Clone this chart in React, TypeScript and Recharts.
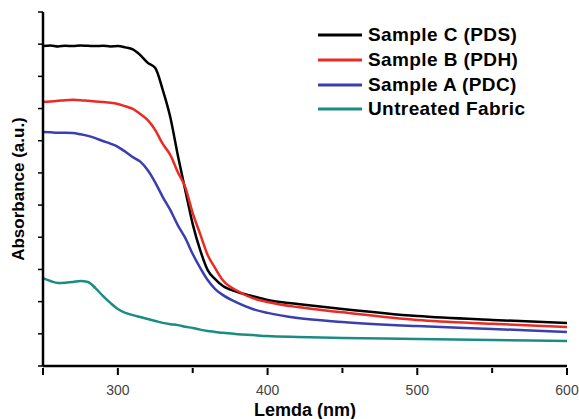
import React from "react";
import { LineChart, Line, XAxis, YAxis } from "recharts";

const wavelengths = [
  250, 255, 260, 265, 270, 275, 280, 285, 290, 295, 300, 305, 310, 315, 320, 325, 330,
  335, 340, 345, 350, 355, 360, 365, 370, 380, 390, 400, 420, 450, 500, 550, 600,
];

const sampleC = [
  0.994, 0.996, 0.993, 0.995, 0.994, 0.996, 0.995, 0.994, 0.995, 0.993, 0.994, 0.99, 0.984,
  0.966, 0.942, 0.926, 0.858, 0.774, 0.656, 0.547, 0.441, 0.36, 0.298, 0.27, 0.249, 0.23,
  0.217, 0.205, 0.193, 0.177, 0.155, 0.143, 0.134,
];

const sampleB = [
  0.82, 0.822, 0.824, 0.826, 0.827, 0.826, 0.824, 0.822, 0.82, 0.818, 0.814, 0.807, 0.799,
  0.783, 0.764, 0.733, 0.69, 0.656, 0.603, 0.556, 0.475, 0.41, 0.345, 0.304, 0.267, 0.233,
  0.211, 0.199, 0.183, 0.167, 0.143, 0.131, 0.121,
];

const sampleA = [
  0.727, 0.726, 0.725, 0.725, 0.724, 0.72, 0.715, 0.708, 0.699, 0.691, 0.681, 0.666, 0.649,
  0.635, 0.608, 0.57, 0.525, 0.485, 0.438, 0.398, 0.348, 0.305, 0.267, 0.239, 0.221, 0.196,
  0.177, 0.165, 0.149, 0.137, 0.124, 0.115, 0.106,
];

const untreated = [
  0.273, 0.264, 0.258, 0.259, 0.261, 0.264, 0.261, 0.242, 0.218, 0.196, 0.177, 0.165, 0.158,
  0.152, 0.146, 0.14, 0.134, 0.13, 0.127, 0.122, 0.118, 0.113, 0.109, 0.106, 0.103, 0.099,
  0.096, 0.093, 0.09, 0.087, 0.084, 0.081, 0.078,
];

const xTicks = [250, 300, 350, 400, 450, 500, 550, 600];
const xLabels = [300, 400, 500, 600];
const yTicks = [0, 0.1, 0.2, 0.3, 0.4, 0.5, 0.6, 0.7, 0.8, 0.9, 1.0, 1.1];

const series = [
  { key: "c", name: "Sample C (PDS)", color: "#000000", values: sampleC },
  { key: "b", name: "Sample B (PDH)", color: "#ec2a24", values: sampleB },
  { key: "a", name: "Sample A (PDC)", color: "#3a3fb0", values: sampleA },
  { key: "u", name: "Untreated Fabric", color: "#1a8c84", values: untreated },
];

const data = wavelengths.map((w, i) => {
  const row: Record<string, number> = { w };
  series.forEach((s) => {
    row[s.key] = s.values[i];
  });
  return row;
});

const FONT = "'Liberation Sans', Arial, sans-serif";

const XTick = (props: any) => {
  const { x, y, payload } = props;
  const major = xLabels.includes(payload.value) || payload.value === 250;
  return (
    <g>
      <line x1={x} y1={y} x2={x} y2={y + (major ? 7 : 5)} stroke="#000" strokeWidth={2} />
      {xLabels.includes(payload.value) && (
        <text x={x} y={y + 27} textAnchor="middle" fontSize={14} fill="#444" fontFamily={FONT}>
          {payload.value}
        </text>
      )}
    </g>
  );
};

const LegendBox = () => (
  <div style={{ position: "absolute", left: 318, top: 23, fontFamily: FONT }}>
    {series.map((s) => (
      <div key={s.key} style={{ display: "flex", alignItems: "center", height: 24.7 }}>
        <svg width={50} height={6}>
          <line x1={0} y1={3} x2={44} y2={3} stroke={s.color} strokeWidth={3} />
        </svg>
        <span style={{ fontSize: 19, fontWeight: "bold", color: "#000", letterSpacing: 0.4 }}>
          {s.name}
        </span>
      </div>
    ))}
  </div>
);

export default function App() {
  return (
    <div style={{ position: "absolute", left: 0, top: 0, width: 579, height: 419, background: "#fff" }}>
      <LineChart width={579} height={419} data={data} margin={{ top: 12, right: 12, bottom: 0, left: 0 }}>
        <XAxis
          dataKey="w"
          type="number"
          domain={[250, 600]}
          ticks={xTicks}
          tick={<XTick />}
          tickLine={false}
          tickSize={0}
          height={53}
          axisLine={{ stroke: "#000", strokeWidth: 2.5 }}
          label={{
            value: "Lemda (nm)",
            position: "insideBottom",
            offset: 3,
            style: { fontSize: 18, fontWeight: "bold", fill: "#000", fontFamily: FONT },
          }}
        />
        <YAxis
          type="number"
          domain={[0, 1.1]}
          ticks={yTicks}
          width={43}
          tickFormatter={() => ""}
          tickSize={5}
          tickLine={{ stroke: "#000", strokeWidth: 1.5 }}
          axisLine={{ stroke: "#000", strokeWidth: 2.5 }}
          label={{
            value: "Absorbance (a.u.)",
            angle: -90,
            position: "insideLeft",
            offset: 18,
            style: { fontSize: 17, fontWeight: "bold", fill: "#000", fontFamily: FONT, textAnchor: "middle" },
          }}
        />
        {series.map((s) => (
          <Line
            key={s.key}
            dataKey={s.key}
            name={s.name}
            type="monotone"
            stroke={s.color}
            strokeWidth={2.5}
            dot={false}
            isAnimationActive={false}
          />
        ))}
      </LineChart>
      <LegendBox />
    </div>
  );
}
